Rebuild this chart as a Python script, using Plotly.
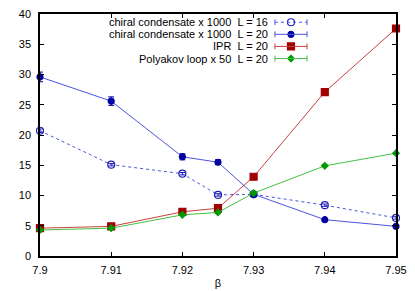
import plotly.graph_objects as go

beta = [7.9, 7.91, 7.92, 7.925, 7.93, 7.94, 7.95]
chiral_L16 = [20.7, 15.1, 13.6, 10.1, 10.2, 8.4, 6.3]
chiral_L16_err = [0.3, 0.2, 0.2, 0.2, 0.2, 0.2, 0.2]
chiral_L20 = [29.6, 25.6, 16.4, 15.5, 10.2, 6.0, 4.9]
chiral_L20_err = [0.8, 0.7, 0.5, 0.4, 0.3, 0.2, 0.2]
ipr_L20 = [4.6, 4.9, 7.3, 7.9, 13.1, 27.1, 37.6]
ipr_L20_err = [0.1, 0.1, 0.1, 0.1, 0.1, 0.1, 0.1]
poly_L20 = [4.3, 4.6, 6.8, 7.2, 10.4, 14.9, 17.0]
poly_L20_err = [0.1, 0.1, 0.1, 0.1, 0.1, 0.1, 0.1]

labels = ["chiral condensate x 1000\u00a0 L = 16",
          "chiral condensate x 1000\u00a0 L = 20",
          "IPR\u00a0 L = 20",
          "Polyakov loop x 50\u00a0 L = 20"]

x_ticks = [7.9, 7.91, 7.92, 7.93, 7.94, 7.95]
y_ticks = [0, 5, 10, 15, 20, 25, 30, 35, 40]

FONT = "Liberation Sans, Arial, sans-serif"

series = [
    dict(y=chiral_L16, err=chiral_L16_err, line="#4a55dd", mk="#2020b8", dash="3px,3px",
         symbol="circle-open", size=7, lw=1),
    dict(y=chiral_L20, err=chiral_L20_err, line="#4a55dd", mk="#0000a0", dash="solid",
         symbol="circle", size=6, lw=1),
    dict(y=ipr_L20, err=ipr_L20_err, line="#c84040", mk="#a00000", dash="solid",
         symbol="square", size=7, lw=1),
    dict(y=poly_L20, err=poly_L20_err, line="#44c044", mk="#009a00", dash="solid",
         symbol="diamond", size=5, lw=1),
]

fig = go.Figure()
for s, name in zip(series, labels):
    fig.add_trace(go.Scatter(
        x=beta, y=s["y"], mode="lines+markers", name=name, cliponaxis=False,
        line=dict(color=s["line"], width=s["lw"], dash=s["dash"]),
        marker=dict(color=s["mk"], symbol=s["symbol"], size=s["size"],
                    line=dict(color=s["mk"], width=1.2)),
        error_y=dict(type="data", array=s["err"], color=s["mk"], thickness=1, width=3),
        showlegend=False,
    ))

# custom gnuplot-style legend (text right, sample to the right)
rows = [0.966, 0.916, 0.866, 0.816]
tx = 0.643
lx0, lx1, mx = 0.66, 0.75, 0.705
for s, name, ry in zip(series, labels, rows):
    fig.add_annotation(x=tx, y=ry, xref="paper", yref="paper", text=name,
                       showarrow=False, xanchor="right", yanchor="middle", borderpad=0,
                       font=dict(family=FONT, size=11, color="black"))
    fig.add_shape(type="line", xref="paper", yref="paper", x0=lx0, x1=lx1, y0=ry, y1=ry,
                  line=dict(color=s["line"], width=1, dash=s["dash"]))
    for cx in (lx0, lx1):
        fig.add_shape(type="line", xref="paper", yref="paper", x0=cx, x1=cx,
                      y0=ry - 0.012, y1=ry + 0.012, line=dict(color=s["line"], width=1))
    fig.add_trace(go.Scatter(
        x=[mx], y=[ry], xaxis="x2", yaxis="y2", mode="markers", showlegend=False,
        hoverinfo="skip",
        marker=dict(color=s["mk"], symbol=s["symbol"], size=s["size"],
                    line=dict(color=s["mk"], width=1.2)),
    ))

axis_common = dict(
    showgrid=False, zeroline=False, showline=True, linecolor="black", linewidth=1.5,
    mirror="allticks", ticks="inside", ticklen=4, tickcolor="black", tickwidth=1,
    tickfont=dict(family=FONT, size=11, color="black"), automargin=False,
)

fig.update_layout(
    width=415, height=291,
    margin=dict(l=40, r=19, t=14, b=35),
    paper_bgcolor="white", plot_bgcolor="white",
    font=dict(family=FONT, size=11, color="black"),
    xaxis=dict(range=[7.9, 7.95], tickvals=x_ticks,
               ticktext=[str(v) for v in x_ticks], ticklabelstandoff=3,
               title=dict(text="β", font=dict(family=FONT, size=11), standoff=4),
               **axis_common),
    yaxis=dict(range=[0, 40], tickvals=y_ticks, ticktext=[str(v) for v in y_ticks],
               ticklabelstandoff=5, **axis_common),
    xaxis2=dict(range=[0, 1], overlaying="x", visible=False),
    yaxis2=dict(range=[0, 1], overlaying="y", visible=False),
    showlegend=False,
)

fig.write_html("out.html", config={"displayModeBar": False},
               post_script="document.body.style.margin='0';")
